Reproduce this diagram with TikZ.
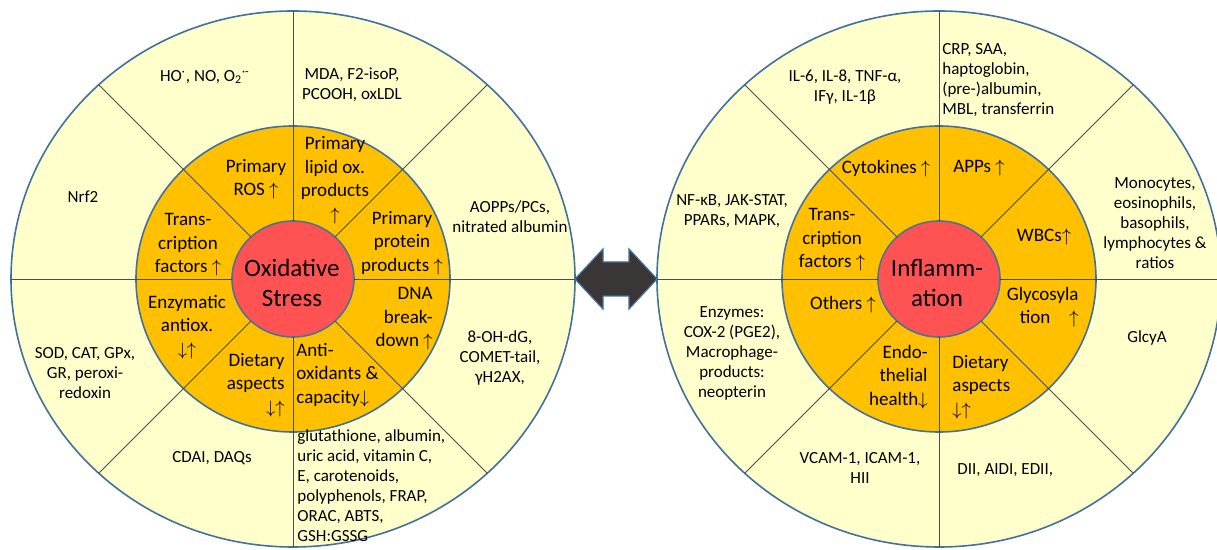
\documentclass[tikz,border=0pt]{standalone}
\usepackage{fontspec}
\setmainfont{Carlito}
\usetikzlibrary{shapes.geometric}

\definecolor{paleyellow}{HTML}{FFFFCC}
\definecolor{ringorange}{HTML}{FFC000}
\definecolor{hubred}{HTML}{FF5353}
\definecolor{rimblue}{HTML}{41719C}
\definecolor{arrowgray}{HTML}{3A3636}

\begin{document}
\begin{tikzpicture}[
  x=0.5pt, y=0.5pt,
  rim/.style={ellipse, draw=rimblue, line width=0.8pt, fill=paleyellow,
              inner sep=0pt, outer sep=0pt, minimum width=282pt, minimum height=268pt},
  ring/.style={ellipse, draw=rimblue, line width=0.8pt, fill=ringorange,
               inner sep=0pt, outer sep=0pt, minimum width=157pt, minimum height=153pt},
  hub/.style={ellipse, draw=rimblue!80!gray, line width=0.8pt, fill=hubred,
              inner sep=0pt, outer sep=0pt, minimum width=61pt, minimum height=58pt},
  spoke/.style={draw=black!70, line width=0.45pt},
  hubtxt/.style={align=center, inner sep=0pt, font=\fontsize{12.5}{15}\selectfont},
  seg/.style={align=center, inner sep=0pt, font=\fontsize{9.5}{11.75}\selectfont},
  bmk/.style={align=center, inner sep=0pt, font=\fontsize{8.5}{10}\selectfont},
  link/.style={fill=arrowgray, draw=rimblue, line width=0.6pt, line join=miter},
]
\useasboundingbox (0,0) rectangle (1217,-550);
\fill[white] (0,0) rectangle (1217,-550);

% ---------------- oxidative stress wheel (left) ----------------
\node[rim]  (rimL) at (293,-279) {};
\node[ring] (ringL) at (293,-279) {};
\node[hub]  (hubL) at (293,-279) {};
\foreach \a in {0,45,...,315}
  \draw[spoke] (hubL.\a) -- (rimL.\a);
\node[hubtxt] (hubLtxt) at (292,-283) {Oxidative\\Stress};

\node[seg] (oxRos) at (256,-179) {Primary\\ROS $\uparrow$};
\node[seg] (oxLipSeg) at (335,-180) {Primary\\lipid ox.\\products\\$\uparrow$};
\node[seg] (oxProtSeg) at (402,-243) {Primary\\protein\\products $\uparrow$};
\node[seg, anchor=east, align=right] (oxDnaSeg) at (433,-319) {DNA\\break-\\down $\uparrow$};
\node[seg, anchor=west, align=left] (oxAntiSeg) at (296,-375) {Anti-\\oxidants \&\\capacity$\downarrow$};
\node[seg, anchor=east, align=right] (oxDietSeg) at (285,-385) {Dietary\\aspects\\$\downarrow\uparrow$};
\node[seg] (oxEnzSeg) at (187,-327) {Enzymatic\\antiox.\\$\downarrow\uparrow$};
\node[seg] (oxTfSeg) at (188,-245) {Trans-\\cription\\factors $\uparrow$};

\node[bmk] (oxRad) at (205,-77) {HO\textsuperscript{·}, NO, O\textsubscript{2}\textsuperscript{·-}};
\node[bmk] (oxLip) at (352,-85) {MDA, F2-isoP,\\PCOOH, oxLDL};
\node[bmk] (oxProt) at (510,-217) {AOPPs/PCs,\\nitrated albumin};
\node[bmk] (oxDna) at (500,-358) {8-OH-dG,\\COMET-tail,\\γH2AX,};
\node[bmk, anchor=west, align=left] (oxAnti) at (297,-486)
  {glutathione, albumin,\\uric acid, vitamin C,\\E, carotenoids,\\polyphenols, FRAP,\\ORAC, ABTS,\\GSH:GSSG};
\node[bmk] (oxDiet) at (212,-458) {CDAI, DAQs};
\node[bmk] (oxEnz) at (85,-373) {SOD, CAT, GPx,\\GR, peroxi-\\redoxin};
\node[bmk] (oxTf) at (83,-197) {Nrf2};

% ---------------- inflammation wheel (right) ----------------
\node[rim]  (rimR) at (939,-279) {};
\node[ring] (ringR) at (939,-279) {};
\node[hub]  (hubR) at (939,-279) {};
\foreach \a in {0,45,...,315}
  \draw[spoke] (hubR.\a) -- (rimR.\a);
\node[hubtxt] (hubRtxt) at (937,-283) {Inflamm-\\ation};

\node[seg] (inCytoSeg) at (886,-169) {Cytokines $\uparrow$};
\node[seg] (inAppSeg) at (979,-168) {APPs $\uparrow$};
\node[seg] (inWbcSeg) at (1044,-237) {WBCs$\uparrow$};
\node[seg, anchor=east, align=right] (inGlySeg) at (1079,-307) {Glycosyla\\tion\quad$\uparrow$};
\node[seg, anchor=west, align=left] (inDietSeg) at (952,-387) {Dietary\\aspects\\$\downarrow\uparrow$};
\node[seg, anchor=east, align=right] (inEndoSeg) at (928,-377) {Endo-\\thelial\\health$\downarrow$};
\node[seg] (inOthSeg) at (843,-305) {Others $\uparrow$};
\node[seg] (inTfSeg) at (832,-240) {Trans-\\cription\\factors $\uparrow$};

\node[bmk] (inCyto) at (845,-87) {IL-6, IL-8, TNF-α,\\IFγ, IL-1β};
\node[bmk, anchor=west, align=left] (inApp) at (942,-80)
  {CRP, SAA,\\haptoglobin,\\(pre-)albumin,\\MBL, transferrin};
\node[bmk] (inWbc) at (1155,-223) {Monocytes,\\eosinophils,\\basophils,\\lymphocytes \&\\ratios};
\node[bmk] (inGly) at (1147,-338) {GlcyA};
\node[bmk, anchor=west, align=left] (inDiet) at (957,-470) {DII, AIDI, EDII,};
\node[bmk] (inEndo) at (860,-468) {VCAM-1, ICAM-1,\\HII};
\node[bmk] (inOth) at (732,-353) {Enzymes:\\COX-2 (PGE2),\\Macrophage-\\products:\\neopterin};
\node[bmk] (inTf) at (732,-211) {NF-κB, JAK-STAT,\\PPARs, MAPK,};

% ---------------- double arrow between the wheels ----------------
\draw[link] (rimL.east) -- ++(28,30) -- ++(0,-13) -- ++(26,0) -- ++(0,13)
  -- (rimR.west) -- ++(-28,-30) -- ++(0,13) -- ++(-26,0) -- ++(0,-13) -- cycle;

\end{tikzpicture}
\end{document}
